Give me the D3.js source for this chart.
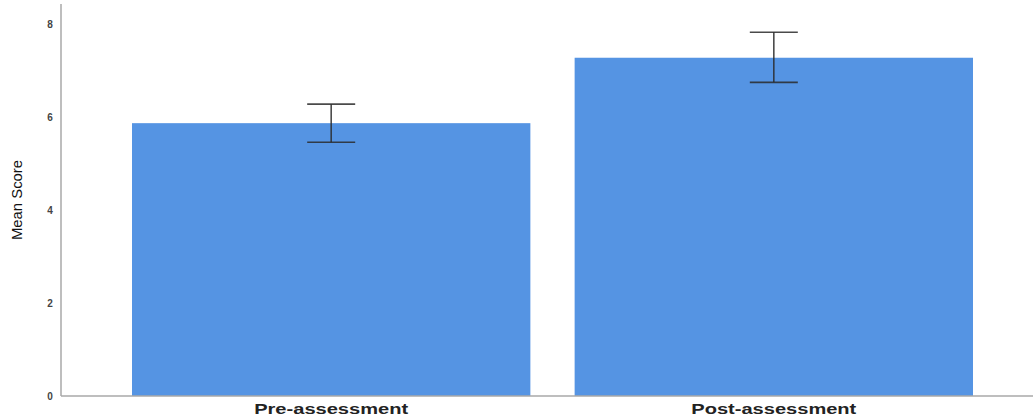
<!DOCTYPE html>
<html><head><meta charset="utf-8">
<script src="https://cdn.jsdelivr.net/npm/d3@7"></script>
<style>body{margin:0;background:#fff;}svg{display:block;}</style>
</head><body>
<svg id="c" width="1033" height="417"></svg>
<script>
const categories = ["Pre-assessment", "Post-assessment"];
const means = [5.88, 7.29];
const errLow = [5.47, 6.76];
const errHigh = [6.29, 7.84];
const yTicks = [0, 2, 4, 6, 8];
const yTitle = "Mean Score";

const svg = d3.select("#c");
const x = d3.scaleBand().domain(categories).range([132, 973]).paddingInner(0.1).paddingOuter(0);
const y = d3.scaleLinear().domain([0, 8]).range([396, 24.8]);

// bars
svg.selectAll("rect.bar").data(categories).enter().append("rect")
  .attr("x", d => x(d)).attr("width", x.bandwidth())
  .attr("y", (d,i) => y(means[i])).attr("height", (d,i) => y(0) - y(means[i]))
  .attr("fill", "#5594e3");

// axes lines
svg.append("line").attr("x1", 61).attr("x2", 61).attr("y1", 4).attr("y2", y(0))
  .attr("stroke", "#a8a8a8").attr("stroke-width", 1.5);
svg.append("line").attr("x1", 61).attr("x2", 1033).attr("y1", y(0)).attr("y2", y(0))
  .attr("stroke", "#a8a8a8").attr("stroke-width", 1.5);

// error bars
const capW = 48;
const eb = svg.selectAll("g.eb").data(categories).enter().append("g")
  .attr("stroke", "#2a2a2a").attr("stroke-width", 1.6).attr("stroke-opacity", 0.85);
eb.append("line").attr("x1", d => x(d) + x.bandwidth()/2).attr("x2", d => x(d) + x.bandwidth()/2)
  .attr("y1", (d,i) => y(errHigh[i])).attr("y2", (d,i) => y(errLow[i]));
eb.append("line").attr("x1", d => x(d) + x.bandwidth()/2 - capW/2).attr("x2", d => x(d) + x.bandwidth()/2 + capW/2)
  .attr("y1", (d,i) => y(errHigh[i])).attr("y2", (d,i) => y(errHigh[i]));
eb.append("line").attr("x1", d => x(d) + x.bandwidth()/2 - capW/2).attr("x2", d => x(d) + x.bandwidth()/2 + capW/2)
  .attr("y1", (d,i) => y(errLow[i])).attr("y2", (d,i) => y(errLow[i]));

// y tick labels
svg.selectAll("text.yt").data(yTicks).enter().append("text")
  .attr("x", 50).attr("y", d => y(d)).attr("dy", "0.35em")
  .attr("text-anchor", "middle").attr("font-family", "Liberation Sans, Arial, sans-serif")
  .attr("font-weight", "bold").attr("font-size", 10).attr("fill", "#444")
  .text(d => d);

// x labels
const xl = [154, 165];
svg.selectAll("text.xl").data(categories).enter().append("text")
  .attr("x", d => x(d) + x.bandwidth()/2).attr("y", 414)
  .attr("text-anchor", "middle").attr("font-family", "Liberation Sans, Arial, sans-serif")
  .attr("font-weight", "bold").attr("font-size", 14).attr("fill", "#222")
  .attr("textLength", (d,i) => xl[i]).attr("lengthAdjust", "spacingAndGlyphs")
  .text(d => d);

// y title
svg.append("text").attr("transform", "translate(22,200) rotate(-90)")
  .attr("text-anchor", "middle").attr("font-family", "Liberation Sans Narrow, Arial Narrow, Liberation Sans, sans-serif")
  .attr("font-size", 14).attr("fill", "#111")
  .attr("textLength", 80).attr("lengthAdjust", "spacingAndGlyphs")
  .text(yTitle);
</script>
</body></html>
